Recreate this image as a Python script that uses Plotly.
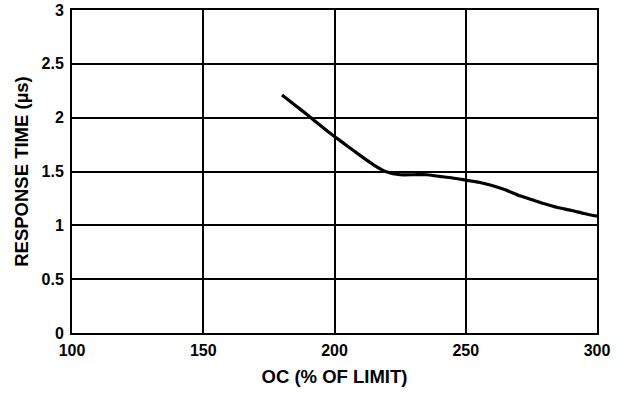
import plotly.graph_objects as go

oc_percent = [180, 185, 190, 195, 200, 205, 210, 215, 220, 225, 230, 235, 240, 245,
              250, 255, 260, 265, 270, 275, 280, 285, 290, 295, 300]
response_us = [2.21, 2.115, 2.02, 1.92, 1.825, 1.735, 1.645, 1.56, 1.495, 1.47, 1.47, 1.47,
               1.455, 1.44, 1.42, 1.40, 1.37, 1.33, 1.28, 1.24, 1.20, 1.165, 1.14, 1.11, 1.085]

x_ticks = [100, 150, 200, 250, 300]
x_tick_text = ["100", "150", "200", "250", "300"]
y_ticks = [0, 0.5, 1, 1.5, 2, 2.5, 3]
y_tick_text = ["0", "0.5", "1", "1.5", "2", "2.5", "3"]

FONT = "Liberation Sans, Arial, sans-serif"

fig = go.Figure()
fig.add_trace(go.Scatter(x=oc_percent, y=response_us, mode="lines",
                         line=dict(color="black", width=3.2, shape="spline", smoothing=0.5),
                         showlegend=False, hoverinfo="skip"))

axis_common = dict(showline=True, mirror=True, linecolor="black", linewidth=2,
                   showgrid=True, gridcolor="black", gridwidth=2, zeroline=False,
                   ticks="", automargin=False,
                   tickfont=dict(family=FONT, size=16, color="black", weight="bold"))

fig.update_xaxes(range=[100, 300], tickvals=x_ticks, ticktext=x_tick_text,
                 ticklabelstandoff=2,
                 title=dict(text="<b>OC (% OF LIMIT)</b>", font=dict(family=FONT, size=18.5, color="black"),
                            standoff=12),
                 **axis_common)
fig.update_yaxes(range=[0, 3], tickvals=y_ticks, ticktext=y_tick_text,
                 ticklabelstandoff=3,
                 title=dict(text="<b>RESPONSE TIME (µs)</b>", font=dict(family=FONT, size=18.5, color="black"),
                            standoff=8),
                 **axis_common)

fig.update_layout(width=626, height=395, margin=dict(l=72, r=29, t=10, b=62),
                  paper_bgcolor="white", plot_bgcolor="white")

fig.write_html("out.html", config={"displayModeBar": False, "staticPlot": True},
               post_script="document.body.style.margin='0';document.body.style.overflow='hidden';")
